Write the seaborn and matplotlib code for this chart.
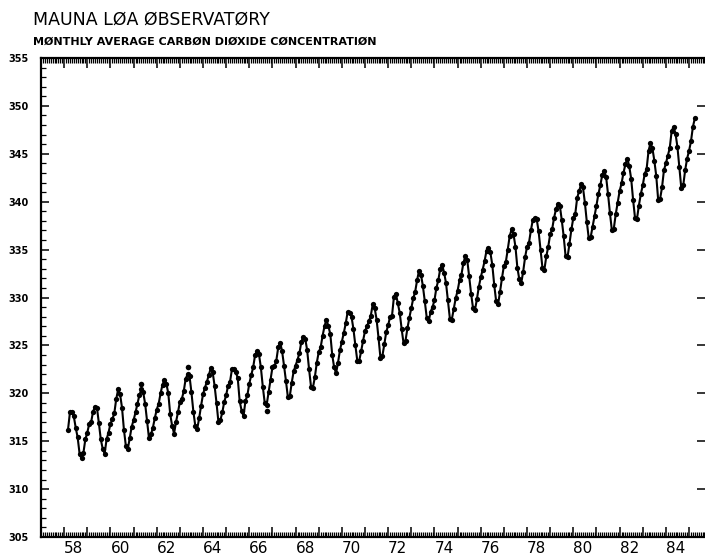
import numpy as np
import pandas as pd
import matplotlib
matplotlib.use("Agg")
import matplotlib.pyplot as plt
import seaborn as sns
from matplotlib.ticker import MultipleLocator

# monthly averages (ppm), Mar 1958 .. Apr 1985
co2_1958 = [316.2, 318.0, 318.0, 317.6, 316.4, 315.4, 313.7, 313.2, 313.8, 315.2]  # from March
co2_1959 = [315.9, 316.8, 317.0, 318.1, 318.6, 318.5, 316.9, 315.2, 314.2, 313.7, 315.2, 315.9]
co2_1960 = [316.8, 317.3, 317.9, 319.4, 320.4, 319.9, 318.5, 316.2, 314.5, 314.2, 315.3, 316.5]
co2_1961 = [317.2, 318.0, 318.9, 319.8, 320.4, 320.1, 318.9, 317.1, 315.3, 315.7, 316.4, 317.4]
co2_1962 = [318.3, 318.9, 320.0, 320.9, 321.4, 321.0, 320.0, 317.8, 316.6, 315.8, 317.0, 318.0]
co2_1963 = [319.1, 319.4, 320.2, 321.5, 322.0, 321.8, 320.1, 318.1, 316.6, 316.3, 317.4, 318.7]
co2_1964 = [319.9, 320.6, 321.2, 321.9, 322.6, 322.2, 320.8, 319.0, 317.0, 317.2, 318.0, 319.1]
co2_1965 = [319.8, 320.8, 321.2, 322.5, 322.5, 322.2, 321.6, 319.2, 318.2, 317.6, 319.2, 319.8]
co2_1966 = [321.0, 321.9, 322.7, 324.0, 324.4, 324.1, 322.7, 320.7, 319.0, 318.8, 320.1, 321.4]
co2_1967 = [322.7, 322.8, 323.4, 324.8, 325.3, 324.4, 322.9, 321.3, 319.6, 319.7, 321.1, 322.3]
co2_1968 = [322.9, 323.5, 324.2, 325.4, 325.9, 325.7, 324.5, 322.5, 320.7, 320.6, 321.7, 323.2]
co2_1969 = [324.3, 324.8, 326.0, 327.0, 327.7, 327.0, 326.2, 324.0, 322.7, 322.1, 323.2, 324.5]
co2_1970 = [325.4, 326.3, 327.3, 328.5, 328.4, 328.0, 326.7, 325.0, 323.4, 323.4, 324.4, 325.5]
co2_1971 = [326.5, 327.0, 327.5, 328.1, 329.3, 328.9, 327.7, 325.8, 323.7, 323.9, 325.1, 326.4]
co2_1972 = [327.1, 328.0, 328.1, 330.1, 330.4, 329.4, 328.4, 326.7, 325.2, 325.5, 326.8, 327.9]
co2_1973 = [328.9, 329.9, 330.6, 331.8, 332.8, 332.4, 331.2, 329.6, 327.9, 327.5, 328.5, 329.0]
co2_1974 = [329.7, 331.0, 331.8, 333.0, 333.4, 332.6, 331.5, 329.7, 327.8, 327.7, 328.8, 329.9]
co2_1975 = [330.7, 331.8, 332.4, 333.6, 334.3, 333.9, 332.2, 330.4, 328.9, 328.7, 329.8, 331.1]
co2_1976 = [332.1, 332.9, 333.8, 334.9, 335.2, 334.7, 333.4, 331.3, 329.6, 329.3, 330.6, 332.0]
co2_1977 = [333.3, 333.7, 335.0, 336.4, 337.1, 336.6, 335.3, 333.1, 331.9, 331.5, 332.7, 334.2]
co2_1978 = [335.3, 335.7, 337.0, 338.1, 338.3, 338.2, 336.9, 335.0, 333.1, 332.9, 334.3, 335.3]
co2_1979 = [336.6, 337.1, 338.3, 339.2, 339.8, 339.6, 338.1, 336.4, 334.3, 334.2, 335.6, 337.1]
co2_1980 = [338.3, 338.7, 340.4, 341.1, 341.8, 341.5, 339.9, 337.9, 336.2, 336.3, 337.4, 338.5]
co2_1981 = [339.6, 340.8, 341.7, 342.8, 343.2, 342.6, 340.8, 338.8, 337.0, 337.2, 338.7, 339.9]
co2_1982 = [341.1, 341.9, 343.0, 343.9, 344.5, 343.7, 342.4, 340.2, 338.3, 338.2, 339.6, 340.8]
co2_1983 = [341.7, 342.9, 343.4, 345.3, 346.1, 345.6, 344.3, 342.7, 340.2, 340.3, 341.5, 343.3]
co2_1984 = [344.0, 344.8, 345.6, 347.4, 347.8, 347.1, 345.7, 343.6, 341.4, 341.7, 343.3, 344.5]
co2_1985 = [345.3, 346.3, 347.8, 348.7]  # Jan..Apr

# stray points sitting off the line
odd_x = [61.333, 63.333, 66.75]
odd_y = [321.0, 322.7, 318.2]

tick_years = list(range(57, 86))

yearly = {58: co2_1958, 59: co2_1959, 60: co2_1960, 61: co2_1961, 62: co2_1962,
          63: co2_1963, 64: co2_1964, 65: co2_1965, 66: co2_1966, 67: co2_1967,
          68: co2_1968, 69: co2_1969, 70: co2_1970, 71: co2_1971, 72: co2_1972,
          73: co2_1973, 74: co2_1974, 75: co2_1975, 76: co2_1976, 77: co2_1977,
          78: co2_1978, 79: co2_1979, 80: co2_1980, 81: co2_1981, 82: co2_1982,
          83: co2_1983, 84: co2_1984, 85: co2_1985}

rows = []
for yr, vals in yearly.items():
    first = 3 if yr == 58 else 1
    for i, v in enumerate(vals):
        rows.append((yr + (first - 1 + i) / 12.0, v))
df = pd.DataFrame(rows, columns=["year", "co2"])

sns.set_style("white")
plt.rcParams["font.family"] = ["DejaVu Sans"]

fig = plt.figure(figsize=(7.05, 5.58), dpi=100)
ax = fig.add_axes([41 / 705, 21 / 558, 664 / 705, 479 / 558])

sns.lineplot(data=df, x="year", y="co2", color="black", lw=1.5, marker="o",
             markersize=3.8, markeredgewidth=0, estimator=None, ax=ax)
sns.scatterplot(x=odd_x, y=odd_y, color="black", s=16, linewidth=0, ax=ax)

ax.set_xlim(57.0, 85.69)
ax.set_ylim(305, 355)
ax.set_xlabel("")
ax.set_ylabel("")

ax.set_xticks(tick_years, [str(y) if y % 2 == 0 and y >= 58 else "" for y in tick_years])
for lab in ax.get_xticklabels():
    lab.set_horizontalalignment("left")
ax.xaxis.set_minor_locator(MultipleLocator(1 / 12))
ax.yaxis.set_major_locator(MultipleLocator(5))
ax.yaxis.set_minor_locator(MultipleLocator(1))

for side in ["left", "bottom", "top"]:
    ax.spines[side].set_color("black")
    ax.spines[side].set_linewidth(1.6)
ax.spines["right"].set_visible(False)

ax.tick_params(axis="x", which="major", direction="in", length=7, width=1.1,
               top=True, bottom=True, labelsize=11, pad=3, colors="black")
ax.tick_params(axis="x", which="minor", direction="in", length=3.5, width=0.9,
               top=True, bottom=True, colors="black")
ax.tick_params(axis="y", which="major", direction="in", length=6, width=1.1,
               left=True, right=True, labelsize=7, pad=9, colors="black")
ax.tick_params(axis="y", which="minor", direction="in", length=3.5, width=0.9,
               left=True, right=False, colors="black")
for lab in ax.get_yticklabels():
    lab.set_fontweight("bold")

fig.text(33 / 705, 1 - 25 / 558, "MAUNA LØA ØBSERVATØRY", fontsize=12.5,
         va="baseline", ha="left", color="black")
fig.text(33 / 705, 1 - 45 / 558, "MØNTHLY AVERAGE CARBØN DIØXIDE CØNCENTRATIØN",
         fontsize=8, fontweight="bold", va="baseline", ha="left", color="black")

fig.savefig("out.png", dpi=100)
